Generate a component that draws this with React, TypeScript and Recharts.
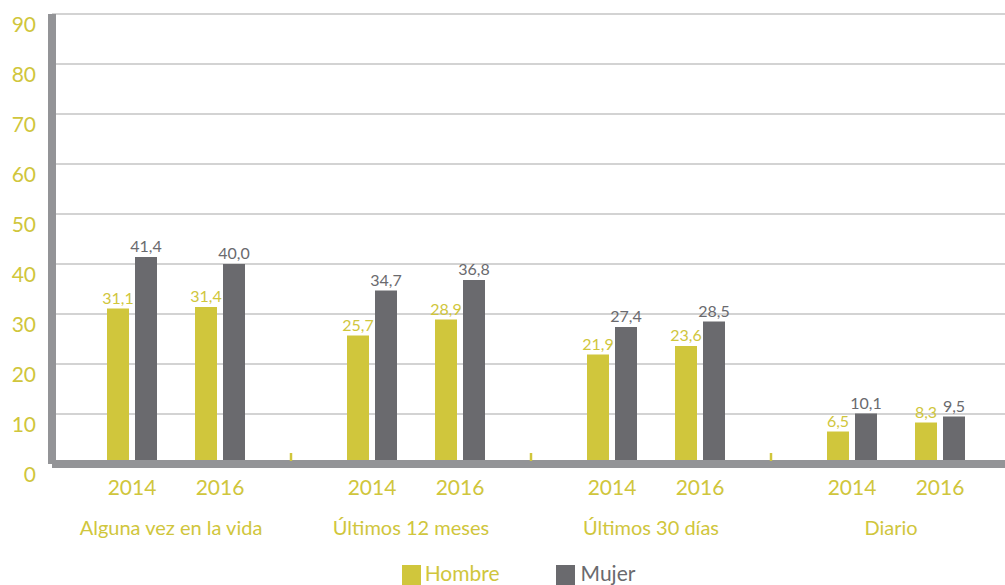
import React from 'react';
import { BarChart, Bar, XAxis, YAxis, CartesianGrid, LabelList, Legend } from 'recharts';

const YELLOW = '#d0c63c';
const GRAY = '#6a6a6e';
const AXIS = '#939497';
const FONT = 'Lato, "Open Sans", sans-serif';

// grupos y años
const categories = ['Alguna vez en la vida', 'Últimos 12 meses', 'Últimos 30 días', 'Diario'];
const years = ['2014', '2016'];
const hombre2014 = [31.1, 25.7, 21.9, 6.5];
const mujer2014 = [41.4, 34.7, 27.4, 10.1];
const hombre2016 = [31.4, 28.9, 23.6, 8.3];
const mujer2016 = [40.0, 36.8, 28.5, 9.5];
const yTicks = [0, 10, 20, 30, 40, 50, 60, 70, 80, 90];
const seriesNames = ['Hombre', 'Mujer'];

const data = categories.map((name, i) => ({
  name,
  h14: hombre2014[i],
  m14: mujer2014[i],
  h16: hombre2016[i],
  m16: mujer2016[i],
}));

const fmt = (v: any) => (typeof v === 'number' ? v.toFixed(1).replace('.', ',') : '');

const GroupTick = ({ x, y, payload, index }: any) => (
  <g>
    {index > 0 && (
      <line x1={x - 125} x2={x - 125} y1={y - 11} y2={y - 3} stroke={YELLOW} strokeWidth={2.5} />
    )}
    <text x={x - 44} y={y + 31} textAnchor="middle" fill={YELLOW} fontSize={21} fontFamily={FONT}>
      {years[0]}
    </text>
    <text x={x + 44} y={y + 31} textAnchor="middle" fill={YELLOW} fontSize={21} fontFamily={FONT}>
      {years[1]}
    </text>
    <text x={x - 5} y={y + 71} textAnchor="middle" fill={YELLOW} fontSize={20} fontFamily={FONT}>
      {payload.value}
    </text>
  </g>
);

const ValueTick = ({ x, y, payload }: any) => (
  <text x={x} y={y + 9} textAnchor="end" dominantBaseline="central" fill={YELLOW} fontSize={21} fontFamily={FONT}>
    {payload.value}
  </text>
);

const LegendContent = () => (
  <div style={{ display: 'flex', justifyContent: 'center', fontFamily: FONT, fontSize: 21, lineHeight: '22px', paddingLeft: 32 }}>
    <div style={{ display: 'flex', alignItems: 'flex-start', marginRight: 56 }}>
      <div style={{ width: 19, height: 20, background: YELLOW, marginTop: 3, marginRight: 4 }} />
      <span style={{ color: YELLOW }}>{seriesNames[0]}</span>
    </div>
    <div style={{ display: 'flex', alignItems: 'flex-start' }}>
      <div style={{ width: 19, height: 20, background: GRAY, marginTop: 3, marginRight: 6 }} />
      <span style={{ color: GRAY }}>{seriesNames[1]}</span>
    </div>
  </div>
);

export default function App() {
  return (
    <div style={{ position: 'absolute', left: 0, top: 0, width: 1005, height: 585, overflow: 'hidden', background: '#fff' }}>
      <BarChart
        width={1016}
        height={585}
        data={data}
        margin={{ top: 14, right: 0, left: 0, bottom: 0 }}
        barGap={6}
      >
        <CartesianGrid vertical={false} stroke="#c4c4c4" strokeWidth={1.5} />
        <XAxis
          dataKey="name"
          height={121}
          padding={{ left: 4, right: 0 }}
          axisLine={{ stroke: AXIS, strokeWidth: 8 }}
          tickLine={false}
          tickSize={0}
          tickMargin={0}
          interval={0}
          tick={<GroupTick />}
        />
        <YAxis
          width={52}
          domain={[0, 90]}
          ticks={yTicks}
          axisLine={{ stroke: AXIS, strokeWidth: 8 }}
          tickLine={false}
          tickSize={0}
          tickMargin={16}
          tick={<ValueTick />}
        />
        <Legend
          layout="horizontal"
          verticalAlign="middle"
          align="center"
          content={<LegendContent />}
          wrapperStyle={{ top: 562, left: 0, width: 1005 }}
        />
        <Bar dataKey="h14" name="Hombre" fill={YELLOW} barSize={22} isAnimationActive={false}>
          <LabelList dataKey="h14" position="top" offset={5} fill={YELLOW} fontSize={16} fontFamily={FONT} formatter={fmt} />
        </Bar>
        <Bar dataKey="m14" name="Mujer" fill={GRAY} barSize={22} isAnimationActive={false}>
          <LabelList dataKey="m14" position="top" offset={5} fill={GRAY} fontSize={16} fontFamily={FONT} formatter={fmt} />
        </Bar>
        <Bar dataKey="none" fill="none" barSize={26} legendType="none" isAnimationActive={false} />
        <Bar dataKey="h16" name="Hombre" fill={YELLOW} barSize={22} legendType="none" isAnimationActive={false}>
          <LabelList dataKey="h16" position="top" offset={5} fill={YELLOW} fontSize={16} fontFamily={FONT} formatter={fmt} />
        </Bar>
        <Bar dataKey="m16" name="Mujer" fill={GRAY} barSize={22} legendType="none" isAnimationActive={false}>
          <LabelList dataKey="m16" position="top" offset={5} fill={GRAY} fontSize={16} fontFamily={FONT} formatter={fmt} />
        </Bar>
      </BarChart>
    </div>
  );
}
